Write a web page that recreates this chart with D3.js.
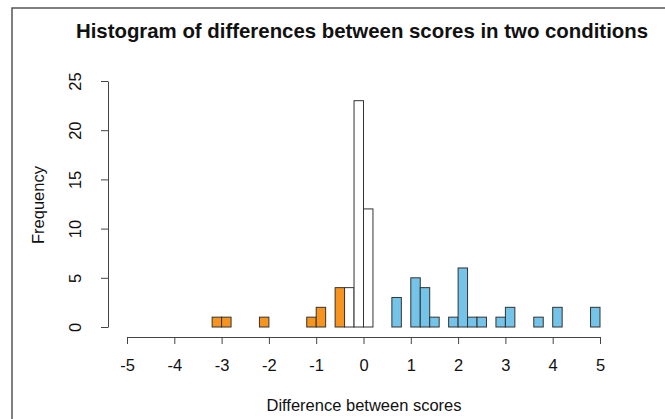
<!DOCTYPE html>
<html>
<head>
<meta charset="utf-8">
<script src="https://cdn.jsdelivr.net/npm/d3@7"></script>
<style>
  html, body { margin: 0; padding: 0; background: #fff; }
  svg { display: block; font-family: "Liberation Sans", Arial, sans-serif; }
</style>
</head>
<body>
<svg id="chart" width="665" height="419"></svg>
<script>
// ---- data ----
const binStarts = [-3.2, -3.0, -2.8, -2.6, -2.4, -2.2, -2.0, -1.8, -1.6, -1.4,
                   -1.2, -1.0, -0.8, -0.6, -0.4, -0.2, 0.0, 0.2, 0.4, 0.6,
                   0.8, 1.0, 1.2, 1.4, 1.6, 1.8, 2.0, 2.2, 2.4, 2.6,
                   2.8, 3.0, 3.2, 3.4, 3.6, 3.8, 4.0, 4.2, 4.4, 4.6, 4.8];
const counts    = [1, 1, 0, 0, 0, 1, 0, 0, 0, 0,
                   1, 2, 0, 4, 4, 23, 12, 0, 0, 3,
                   0, 5, 4, 1, 0, 1, 6, 1, 1, 0,
                   1, 2, 0, 0, 1, 0, 2, 0, 0, 0, 2];
const binWidth = 0.2;
const xTicks = [-5, -4, -3, -2, -1, 0, 1, 2, 3, 4, 5];
const yTicks = [0, 5, 10, 15, 20, 25];
const orangeBelow = -0.4;   // bins starting below this are orange
const blueFrom = 0.6;       // bins starting at/after this are blue

const titleText = "Histogram of differences between scores in two conditions";
const xLabel = "Difference between scores";
const yLabel = "Frequency";

// ---- drawing ----
const svg = d3.select("#chart");
const x = d3.scaleLinear().domain([-5, 5]).range([127, 600]);
const y = d3.scaleLinear().domain([0, 25]).range([327, 81]);

// outer frame (top + left)
svg.append("path")
  .attr("d", "M12,419 L12,8 L665,8")
  .attr("fill", "none").attr("stroke", "#555").attr("stroke-width", 1.5);

const fillFor = s => s < orangeBelow - 1e-9 ? "#F7941D" : (s >= blueFrom - 1e-9 ? "#74C3E8" : "#FFFFFF");

svg.append("g").selectAll("rect")
  .data(binStarts.map((s, i) => ({ s, c: counts[i] })))
  .join("rect")
  .attr("x", d => x(d.s))
  .attr("width", d => x(d.s + binWidth) - x(d.s))
  .attr("y", d => y(d.c))
  .attr("height", d => y(0) - y(d.c))
  .attr("fill", d => fillFor(d.s))
  .attr("stroke", "#333")
  .attr("stroke-width", 1);

// x axis
const gx = svg.append("g").attr("transform", "translate(0,337)")
  .call(d3.axisBottom(x).tickValues(xTicks).tickSizeOuter(0).tickSizeInner(7).tickPadding(15)
    .tickFormat(d => d < 0 ? "-" + Math.abs(d) : String(d)));
gx.selectAll("text").attr("font-size", 16.5).attr("fill", "#111").attr("font-family", "Liberation Sans, Arial, sans-serif");
gx.selectAll("line, path").attr("stroke", "#444");

// y axis
const gy = svg.append("g").attr("transform", "translate(108,0)")
  .call(d3.axisLeft(y).tickValues(yTicks).tickSizeOuter(0).tickSizeInner(7).tickPadding(0).tickFormat(d3.format("d")));
gy.selectAll("line, path").attr("stroke", "#444");
gy.selectAll("text")
  .attr("font-size", 16.5).attr("fill", "#111").attr("font-family", "Liberation Sans, Arial, sans-serif")
  .attr("text-anchor", "middle")
  .attr("x", null).attr("dy", null)
  .attr("transform", "translate(-33,0) rotate(-90)")
  .attr("dy", "0.35em");

// title
svg.append("text")
  .attr("x", 362).attr("y", 38)
  .attr("text-anchor", "middle")
  .attr("font-size", 20.4).attr("font-weight", "bold").attr("fill", "#111")
  .text(titleText);

// x label
svg.append("text")
  .attr("x", 364).attr("y", 411)
  .attr("text-anchor", "middle")
  .attr("font-size", 16.5).attr("fill", "#111")
  .text(xLabel);

// y label
svg.append("text")
  .attr("transform", "translate(44,205) rotate(-90)")
  .attr("text-anchor", "middle")
  .attr("font-size", 16.5).attr("fill", "#111")
  .text(yLabel);
</script>
</body>
</html>
